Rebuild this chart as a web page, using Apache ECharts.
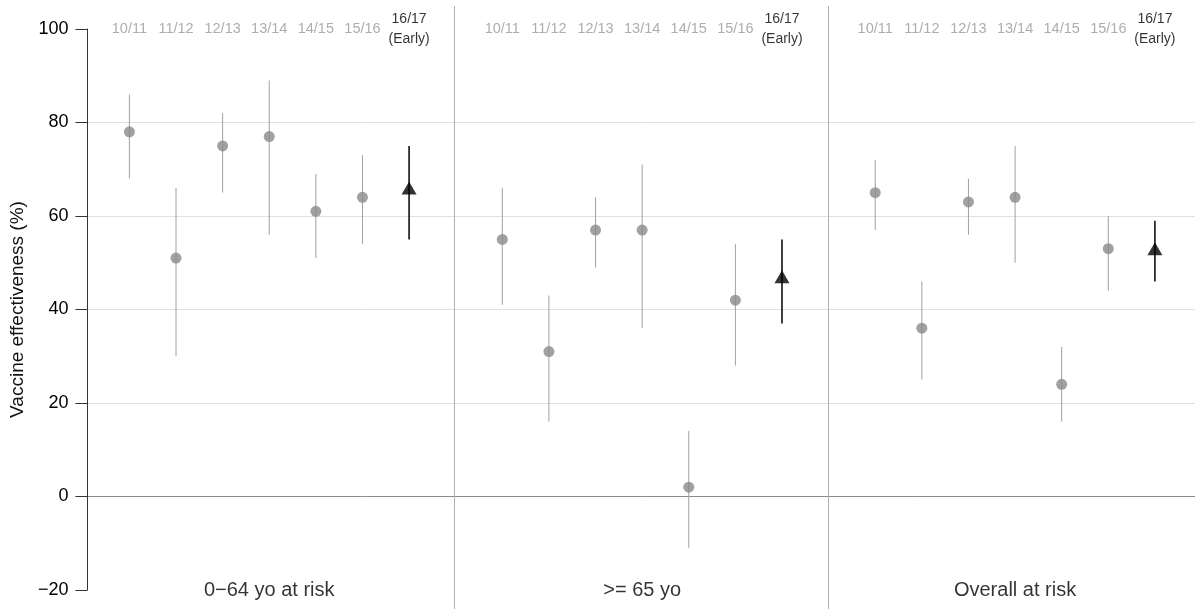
<!DOCTYPE html>
<html>
<head>
<meta charset="utf-8">
<script src="https://cdn.jsdelivr.net/npm/echarts@6/dist/echarts.min.js"></script>
<style>
  html, body { margin: 0; padding: 0; background: #fff; }
  #main { width: 1195px; height: 609px; }
</style>
</head>
<body>
<div id="main"></div>
<script>
var seasons = ['10/11', '11/12', '12/13', '13/14', '14/15', '15/16', '16/17\n(Early)'];
var groups = ['0\u221264 yo at risk', '>= 65 yo', 'Overall at risk'];

// point estimate, lower and upper bound for each group, season by season
var est = [
    [78, 51, 75, 77, 61, 64, 66],
    [55, 31, 57, 57, 2, 42, 47],
    [65, 36, 63, 64, 24, 53, 53]
];
var lower = [
    [68, 30, 65, 56, 51, 54, 55],
    [41, 16, 49, 36, -11, 28, 37],
    [57, 25, 56, 50, 16, 44, 46]
];
var upper = [
    [86, 66, 82, 89, 69, 73, 75],
    [66, 43, 64, 71, 14, 54, 55],
    [72, 46, 68, 75, 32, 60, 59]
];

var dom = document.getElementById('main');
var chart = echarts.init(dom);

var pastPts = [], earlyPts = [], pastBars = [], earlyBars = [], seasonLabels = [];
for (var g = 0; g < groups.length; g++) {
    for (var s = 0; s < seasons.length; s++) {
        var x = g * 8 + s + 1;
        if (s === seasons.length - 1) {
            earlyPts.push([x, est[g][s]]);
            earlyBars.push([x, lower[g][s], upper[g][s]]);
        } else {
            pastPts.push([x, est[g][s]]);
            pastBars.push([x, lower[g][s], upper[g][s]]);
        }
        seasonLabels.push({value: [x, 100], name: seasons[s], early: s === seasons.length - 1});
    }
}
var groupLabels = groups.map(function (name, g) {
    return {value: [g * 8 + 4, -20], name: name};
});

function errorBar(color, width) {
    return function (params, api) {
        var a = api.coord([api.value(0), api.value(1)]);
        var b = api.coord([api.value(0), api.value(2)]);
        return {
            type: 'line',
            shape: {x1: a[0], y1: a[1], x2: b[0], y2: b[1]},
            style: {stroke: color, lineWidth: width}
        };
    };
}

var font = 'Liberation Sans, Arial, sans-serif';

option = {
    animation: false,
    grid: [
        {left: 86, right: 0, top: 29, bottom: 19},
        {left: 86, right: 0, top: 6, bottom: 0}
    ],
    xAxis: [
        {type: 'value', gridIndex: 0, min: 0.1, max: 23.86, show: false},
        {type: 'value', gridIndex: 1, min: 0.1, max: 23.86, show: false}
    ],
    yAxis: [
        {
            type: 'value',
            gridIndex: 0,
            min: -20,
            max: 100,
            interval: 20,
            name: 'Vaccine effectiveness (%)',
            nameLocation: 'middle',
            nameGap: 54,
            nameTextStyle: {fontSize: 19, color: '#111', fontFamily: font},
            axisLine: {show: true, lineStyle: {color: '#333', width: 1}},
            axisTick: {show: true, length: 12, lineStyle: {color: '#333'}},
            axisLabel: {
                fontSize: 18,
                color: '#000',
                fontFamily: font,
                margin: 19,
                formatter: function (v) { return String(v).replace('-', '\u2212'); }
            },
            splitLine: {
                show: true,
                lineStyle: {
                    color: ['rgba(0,0,0,0)', '#8c8c8c', '#e0e0e0', '#e0e0e0', '#e0e0e0', '#e0e0e0', 'rgba(0,0,0,0)'],
                    width: 1
                }
            }
        },
        {type: 'value', gridIndex: 1, min: 0, max: 1, show: false}
    ],
    series: [
        {
            type: 'scatter',
            xAxisIndex: 1,
            yAxisIndex: 1,
            data: [],
            silent: true,
            markLine: {
                silent: true,
                symbol: 'none',
                label: {show: false},
                lineStyle: {color: '#b0b0b0', width: 1, type: 'solid'},
                data: [{xAxis: 8}, {xAxis: 16}]
            }
        },
        {
            type: 'custom',
            renderItem: errorBar('#a0a0a0', 1),
            data: pastBars,
            silent: true,
            z: 2
        },
        {
            type: 'custom',
            renderItem: errorBar('#000', 1.5),
            data: earlyBars,
            silent: true,
            z: 2
        },
        {
            type: 'scatter',
            data: pastPts,
            symbol: 'circle',
            symbolSize: 11,
            itemStyle: {color: '#8a8a8a'},
            z: 3
        },
        {
            type: 'scatter',
            data: earlyPts,
            symbol: 'triangle',
            symbolSize: [15, 13],
            itemStyle: {color: '#000'},
            z: 3
        },
        {
            type: 'scatter',
            data: seasonLabels,
            symbolSize: 0,
            clip: false,
            silent: true,
            label: {
                show: true,
                position: 'inside',
                fontFamily: font,
                formatter: function (p) { return p.data.early ? '{e|' + p.name.replace('\n', '}\n{e|') + '}' : '{p|' + p.name + '}'; },
                rich: {
                    p: {fontSize: 14.5, color: '#999', fontFamily: font},
                    e: {fontSize: 14, color: '#000', fontFamily: font, lineHeight: 20}
                }
            }
        },
        {
            type: 'scatter',
            data: groupLabels,
            symbolSize: 0,
            clip: false,
            silent: true,
            label: {
                show: true,
                position: 'inside',
                fontSize: 20,
                color: '#000',
                fontFamily: font,
                formatter: '{b}'
            }
        }
    ]
};
chart.setOption(option);
</script>
</body>
</html>
